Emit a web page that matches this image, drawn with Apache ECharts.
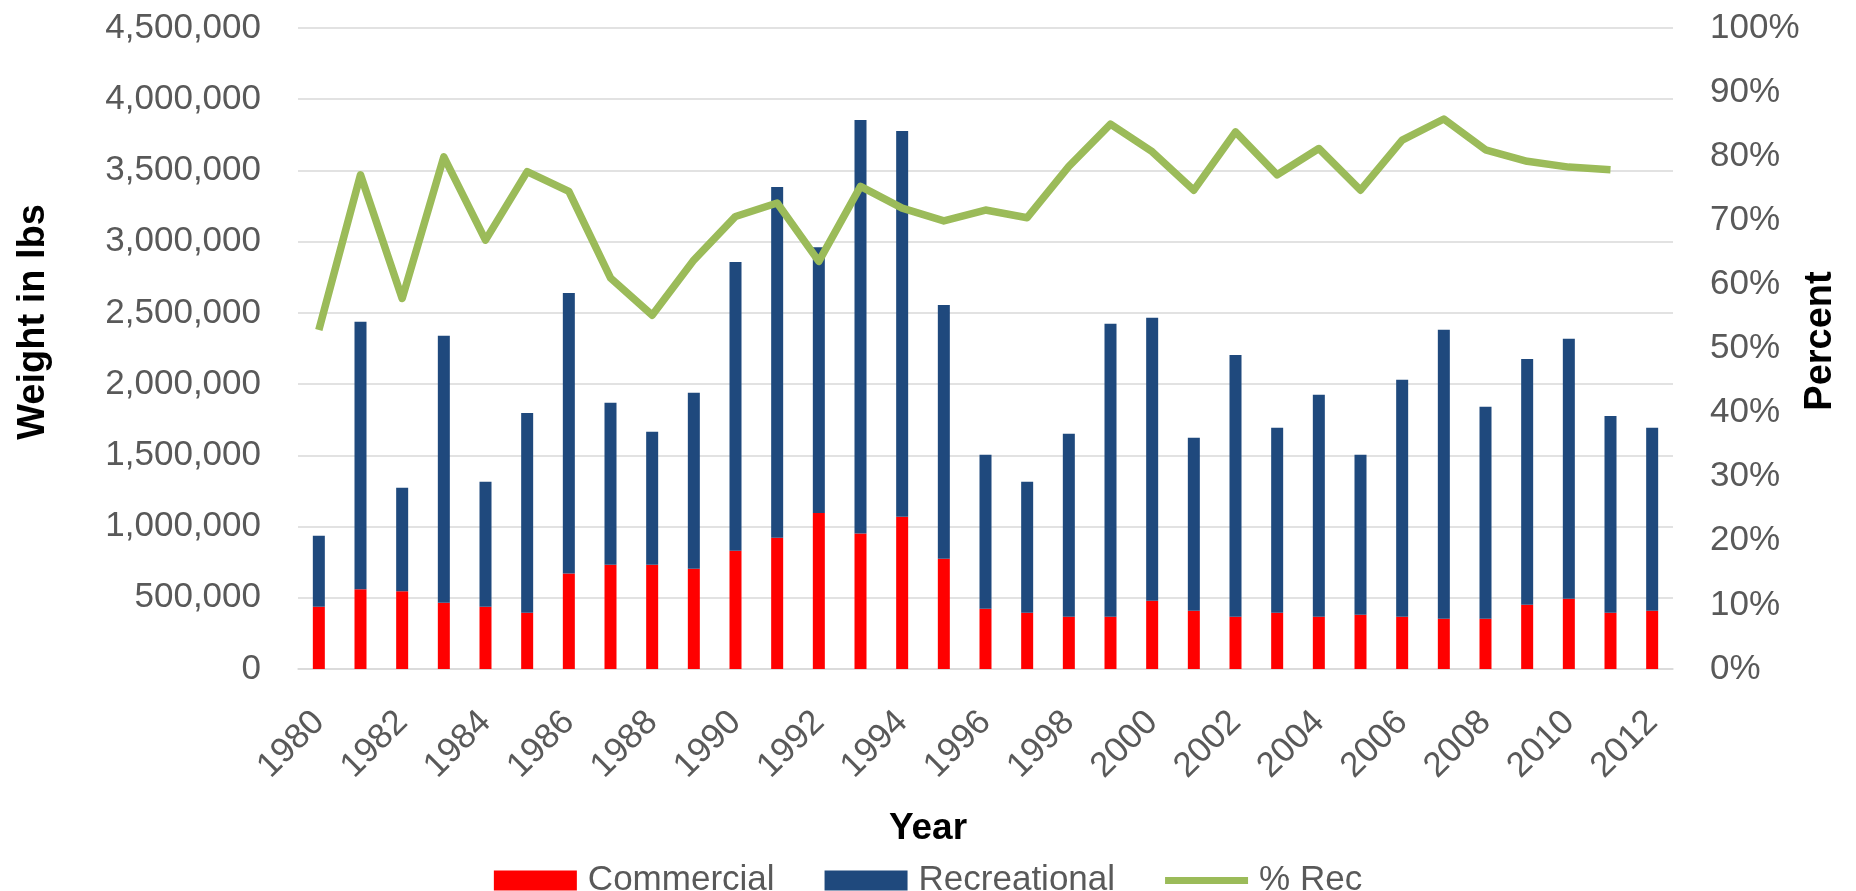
<!DOCTYPE html>
<html>
<head>
<meta charset="utf-8">
<title>Weight in lbs</title>
<script src="https://cdn.jsdelivr.net/npm/echarts@6/dist/echarts.min.js"></script>
<style>
  html, body { margin: 0; padding: 0; background: #fff; }
  #chart { width: 1856px; height: 891px; }
</style>
</head>
<body>
<div id="chart"></div>
<script>
// values
var years = [];
for (var y = 1980; y <= 2012; y++) years.push(String(y));

var commercial = [437000, 559000, 545000, 465000, 437000, 395000, 671000, 732000, 732000, 704000,
  830000, 921000, 1095000, 952000, 1069000, 774000, 423000, 395000, 367000, 367000,
  479000, 409000, 367000, 395000, 367000, 381000, 367000, 353000, 353000, 451000,
  493000, 395000, 409000];

var recreational = [498000, 1878000, 727000, 1874000, 877000, 1403000, 1969000, 1137000, 933000, 1235000,
  2028000, 2463000, 1866000, 2902000, 2708000, 1782000, 1081000, 919000, 1284000, 2056000,
  1986000, 1214000, 1838000, 1298000, 1558000, 1123000, 1663000, 2028000, 1488000, 1726000,
  1825000, 1382000, 1284000];

var pctRec = [0.529, 0.771, 0.578, 0.799, 0.669, 0.776, 0.745, 0.610, 0.552, 0.638,
  0.706, 0.727, 0.636, 0.753, 0.719, 0.699, 0.716, 0.704, 0.784, 0.850,
  0.807, 0.747, 0.838, 0.771, 0.812, 0.747, 0.825, 0.858, 0.810, 0.792,
  0.783, 0.779, null];

var FONT = '"Liberation Sans", Arial, sans-serif';
var GREY = '#595959';
var GREEN = '#9BBB59';

var chart = echarts.init(document.getElementById('chart'));

var option = {
  animation: false,
  grid: { left: 298, right: 183, top: 28, bottom: 222 },
  legend: {
    left: 'center',
    top: 858,
    itemWidth: 83,
    itemHeight: 20,
    itemGap: 50,
    textStyle: { fontFamily: FONT, fontSize: 35, color: GREY, padding: [0, 0, 0, 6] },
    data: [
      { name: 'Commercial', icon: 'rect' },
      { name: 'Recreational', icon: 'rect' },
      // thick flat line for the % line, like the original key
      { name: '% Rec', icon: 'path://M0,0h90v7.5h-90z', symbolKeepAspect: true, itemStyle: { color: GREEN } }
    ]
  },
  graphic: [
    {
      type: 'text', x: 928, y: 829,
      style: { text: 'Year', font: 'bold 37px ' + FONT, fill: '#000', textAlign: 'center', textVerticalAlign: 'middle' }
    },
    {
      type: 'text', x: 34, y: 322, rotation: Math.PI / 2,
      style: { text: 'Weight in lbs', font: 'bold 38px ' + FONT, fill: '#000', textAlign: 'center', textVerticalAlign: 'middle' }
    },
    {
      type: 'text', x: 1821, y: 341, rotation: Math.PI / 2,
      style: { text: 'Percent', font: 'bold 38px ' + FONT, fill: '#000', textAlign: 'center', textVerticalAlign: 'middle' }
    }
  ],
  xAxis: {
    type: 'category',
    data: years,
    axisTick: { show: false },
    axisLine: { lineStyle: { color: '#D9D9D9', width: 1.5 } },
    axisLabel: {
      interval: 1,
      rotate: 45,
      margin: 48,
      fontFamily: FONT,
      fontSize: 35,
      color: GREY
    }
  },
  yAxis: [
    {
      type: 'value',
      min: 0,
      max: 4500000,
      interval: 500000,
      axisLine: { show: false },
      axisTick: { show: false },
      splitLine: { lineStyle: { color: '#D9D9D9', width: 1.5 } },
      axisLabel: {
        margin: 37,
        fontFamily: FONT,
        fontSize: 35,
        color: GREY,
        formatter: function (v) { return v.toLocaleString('en-US'); }
      }
    },
    {
      type: 'value',
      min: 0,
      max: 1,
      interval: 0.1,
      position: 'right',
      axisLine: { show: false },
      axisTick: { show: false },
      splitLine: { show: false },
      axisLabel: {
        margin: 37,
        fontFamily: FONT,
        fontSize: 35,
        color: GREY,
        formatter: function (v) { return Math.round(v * 100) + '%'; }
      }
    }
  ],
  series: [
    {
      name: 'Commercial',
      type: 'bar',
      stack: 'w',
      barWidth: 12,
      itemStyle: { color: '#FF0000' },
      data: commercial
    },
    {
      name: 'Recreational',
      type: 'bar',
      stack: 'w',
      barWidth: 12,
      itemStyle: { color: '#1F497D' },
      data: recreational
    },
    {
      name: '% Rec',
      type: 'line',
      yAxisIndex: 1,
      symbol: 'none',
      lineStyle: { color: GREEN, width: 7.5, join: 'round' },
      itemStyle: { color: GREEN },
      data: pctRec
    }
  ]
};

chart.setOption(option);
</script>
</body>
</html>
